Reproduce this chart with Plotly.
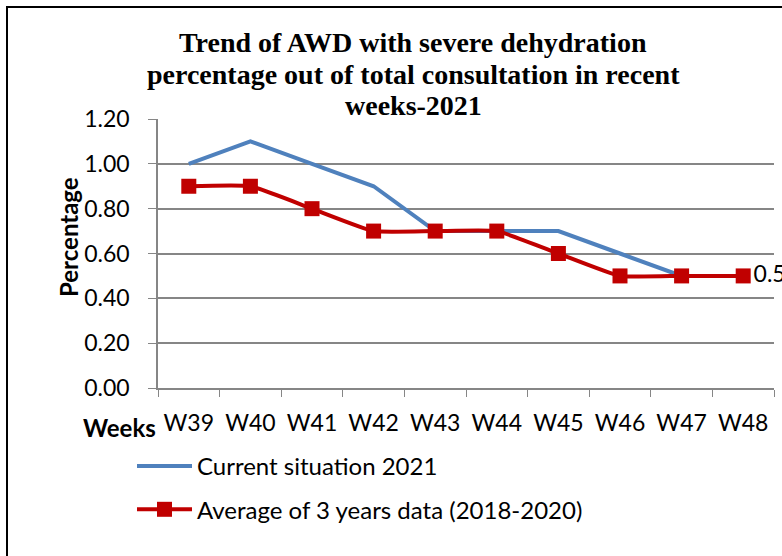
import plotly.graph_objects as go

weeks = ["W39", "W40", "W41", "W42", "W43", "W44", "W45", "W46", "W47", "W48"]
current_2021 = [1.00, 1.10, 1.00, 0.90, 0.70, 0.70, 0.70, 0.60, 0.50, 0.50]
avg_2018_2020 = [0.90, 0.90, 0.80, 0.70, 0.70, 0.70, 0.60, 0.50, 0.50, 0.50]
y_ticks = [0.0, 0.2, 0.4, 0.6, 0.8, 1.0, 1.2]
title_lines = ["Trend of AWD with severe dehydration",
               "percentage out of total consultation in recent",
               "weeks-2021"]

W, H = 782, 556
L, R, T, B = 158, 8, 119, 168
pw, ph = W - L - R, H - T - B

def px_x(p):
    return (p - L) / pw

def px_y(p):
    return (H - B - p) / ph

sans = "Lato, 'Open Sans', sans-serif"
tick_font = dict(family=sans, size=23, color="black")

fig = go.Figure()
fig.add_trace(go.Scatter(
    x=weeks, y=current_2021, name="Current situation 2021",
    mode="lines", line=dict(color="#4F81BD", width=4),
    legendgroup="a",
))
labels = [""] * (len(weeks) - 1) + [f"{avg_2018_2020[-1]:g}"]
fig.add_trace(go.Scatter(
    x=weeks, y=avg_2018_2020, name="Average of 3 years data (2018-2020)",
    mode="lines+markers+text", line=dict(color="#C00000", width=4, shape="spline", smoothing=0.4),
    marker=dict(symbol="square", size=15, color="#C00000"),
    text=labels, textposition="middle right", textfont=tick_font,
    cliponaxis=False, legendgroup="b",
))

fig.update_layout(
    width=W, height=H,
    margin=dict(l=L, r=R, t=T, b=B),
    paper_bgcolor="white", plot_bgcolor="white",
    showlegend=True,
    legend=dict(x=px_x(132), y=px_y(444), xanchor="left", yanchor="top",
                font=dict(family=sans, size=24, color="black"),
                tracegroupgap=9, traceorder="grouped", itemwidth=55,
                bgcolor="rgba(0,0,0,0)"),
    xaxis=dict(type="category", showgrid=False, showline=True, linecolor="#868686", linewidth=1.5,
               ticks="outside", tickson="boundaries", ticklen=7, tickcolor="#868686",
               tickfont=tick_font, ticklabelstandoff=14, range=[-0.5, 9.5]),
    yaxis=dict(range=[0, 1.2], tickvals=y_ticks, tickformat=".2f", showgrid=True,
               gridcolor="#868686", gridwidth=1.5, showline=True, linecolor="#868686", linewidth=1.5,
               ticks="outside", ticklen=8, tickcolor="#868686", tickfont=tick_font,
               ticklabelstandoff=14, zeroline=False),
)

title_font = dict(family="'Liberation Serif', 'Times New Roman', serif", size=28, color="black")
for i, (line, ypx) in enumerate(zip(title_lines, [42, 74, 106])):
    fig.add_annotation(text=f"<b>{line}</b>", xref="paper", yref="paper",
                       x=px_x(413), y=px_y(ypx), showarrow=False, font=title_font,
                       xanchor="center", yanchor="middle")

fig.add_annotation(text="<b>Percentage</b>", xref="paper", yref="paper",
                   x=px_x(68), y=px_y(237), textangle=-90, showarrow=False,
                   font=dict(family=sans, size=24, color="black"),
                   xanchor="center", yanchor="middle")
fig.add_annotation(text="<b>Weeks</b>", xref="paper", yref="paper",
                   x=px_x(158), y=px_y(427), showarrow=False,
                   font=dict(family=sans, size=24, color="black"),
                   xanchor="right", yanchor="middle")

# chart border (top and left edges visible)
fig.add_shape(type="line", xref="paper", yref="paper",
              x0=px_x(6), y0=px_y(7), x1=px_x(790), y1=px_y(7),
              line=dict(color="black", width=2))
fig.add_shape(type="line", xref="paper", yref="paper",
              x0=px_x(7), y0=px_y(6), x1=px_x(7), y1=px_y(570),
              line=dict(color="black", width=2))

fig.write_html("out.html", config={"displayModeBar": False},
               post_script="document.body.style.margin='0';")
